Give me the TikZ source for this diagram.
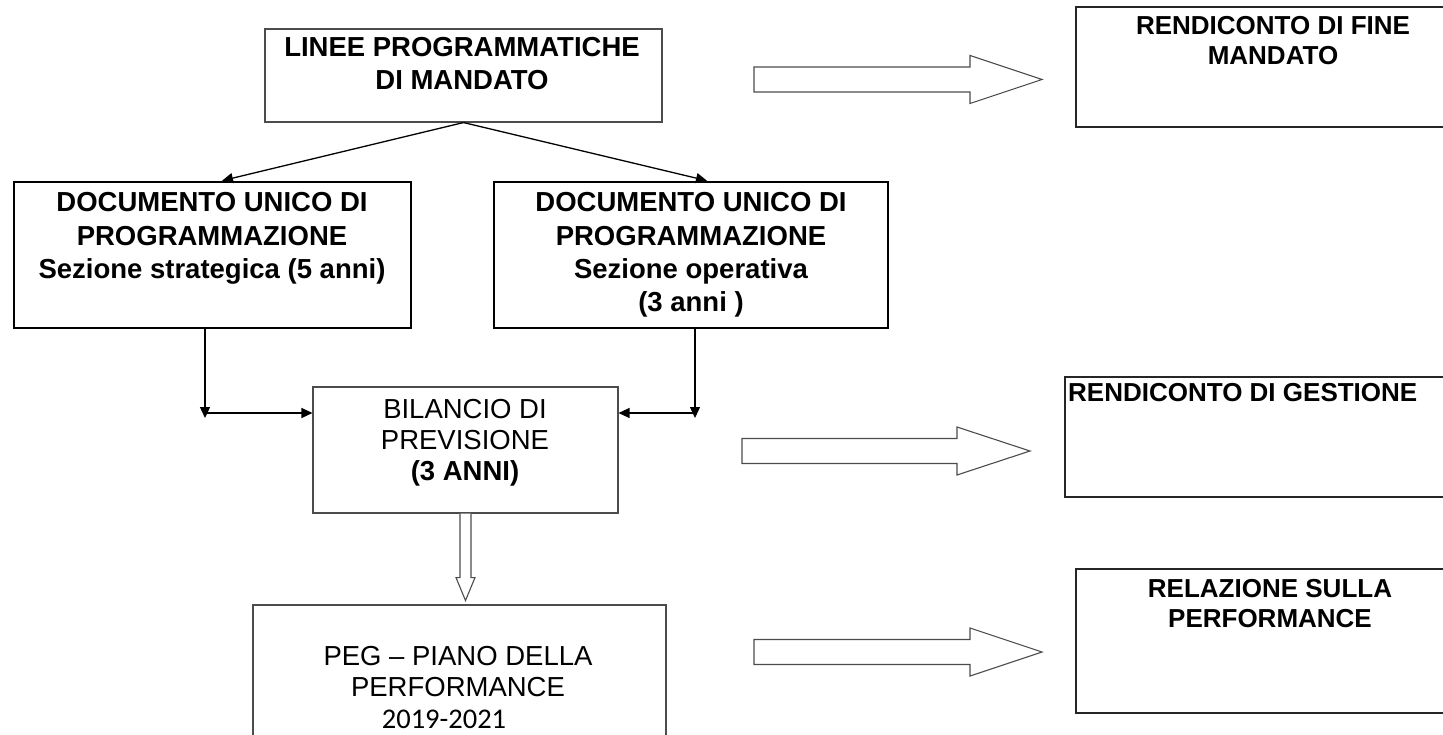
\documentclass[tikz,border=0pt]{standalone}
\usepackage{fontspec}
\setmainfont{Liberation Sans}
\newfontfamily\carlito{Carlito}
\usetikzlibrary{arrows.meta}

\tikzset{
  box/.style={draw=black!70, line width=1.1pt, inner sep=0pt},
  thickbox/.style={draw=black, line width=2.6pt, inner sep=0pt},
  sidebox/.style={draw=black!85, line width=1.6pt, inner sep=0pt},
  lbl/.style={inner sep=0pt, align=center, font=\fontsize{27.5}{33.4}\selectfont\bfseries},
  plainlbl/.style={inner sep=0pt, align=center, font=\fontsize{27.5}{31}\selectfont},
  sidelbl/.style={inner sep=0pt, align=center, font=\fontsize{26}{30}\selectfont\bfseries},
  conn/.style={line width=1.3pt, -{Triangle[length=11pt,width=10pt]}},
  hollow/.style={draw=black!70, line width=1.1pt, fill=white}
}

\begin{document}
\begin{tikzpicture}[x=1pt,y=-1pt]
    \useasboundingbox (0,0) rectangle (1443,735);
    \clip (0,0) rectangle (1443,735);
    % boxes
    \node[box, minimum width=397, minimum height=93] (linee) at (463.5,75.5) {};
    \node[thickbox, minimum width=397, minimum height=146] (dusx) at (212.5,255) {};
    \node[thickbox, minimum width=394, minimum height=146] (dudx) at (691,255) {};
    \node[box, minimum width=305, minimum height=126] (bil) at (465.5,450) {};
    \node[box, minimum width=413, minimum height=150] (peg) at (459.5,680) {};
    \node[sidebox, minimum width=440, minimum height=120] (rfm) at (1296,67) {};
    \node[sidebox, minimum width=440, minimum height=120] (rges) at (1285,437) {};
    \node[sidebox, minimum width=440, minimum height=144] (rrel) at (1296,641) {};
    % texts
    \node[lbl] (linee-t) at (462,63.5) {LINEE PROGRAMMATICHE\\DI MANDATO};
    \node[lbl] (dusx-t) at (212,238.5) {DOCUMENTO UNICO DI\\PROGRAMMAZIONE\\Sezione strategica (5 anni)};
    \node[lbl] (dudx-t) at (691,255) {DOCUMENTO UNICO DI\\PROGRAMMAZIONE\\Sezione operativa\\(3 anni )};
    \node[plainlbl] (bil-t) at (465,442.5) {BILANCIO DI\\PREVISIONE\\\textbf{(3 ANNI)}};
    \node[plainlbl, font=\fontsize{27.5}{31.5}\selectfont] (peg-t) at (458,687) {PEG -- PIANO DELLA\\PERFORMANCE\\{\carlito\fontsize{28.5}{31.5}\selectfont 2019-2021}\hspace*{28pt}};
    \node[sidelbl] (rfm-t) at (1273,41) {RENDICONTO DI FINE\\MANDATO};
    \node[sidelbl, anchor=west] (rges-t) at (1068,393) {RENDICONTO DI GESTIONE};
    \node[sidelbl] (rrel-t) at (1270,604) {RELAZIONE SULLA\\PERFORMANCE};
    % connectors
    \draw[conn] (linee.south) -- ([xshift=9.5pt]dusx.north);
    \draw[conn] (linee.south) -- ([xshift=16pt]dudx.north);
    \coordinate (jl) at (205,413);
    \coordinate (jr) at (695,413);
    \draw[conn] (dusx.south -| jl) -- ([yshift=-5pt]jl);
    \draw[conn] (jl) -- (jl -| bil.west);
    \draw[conn] (dudx.south -| jr) -- ([yshift=-5pt]jr);
    \draw[conn] (jr) -- (jr -| bil.east);
    % hollow arrows
    \draw[hollow] ([xshift=-5.5pt]bil.south) -- ++(0,64) -- ++(-4,0) -- ++(9.5,23) -- ++(9.5,-23) -- ++(-4,0) -- ++(0,-64);
    \foreach \xa/\xb/\xc/\yc in {754/970/1042/79.5, 742/957/1030/451, 754/970/1042/652}{
        \draw[hollow] (\xa,\yc-12.5) -- (\xb,\yc-12.5) -- (\xb,\yc-24) -- (\xc,\yc) -- (\xb,\yc+24) -- (\xb,\yc+12.5) -- (\xa,\yc+12.5) -- cycle;
    }
\end{tikzpicture}
\end{document}
